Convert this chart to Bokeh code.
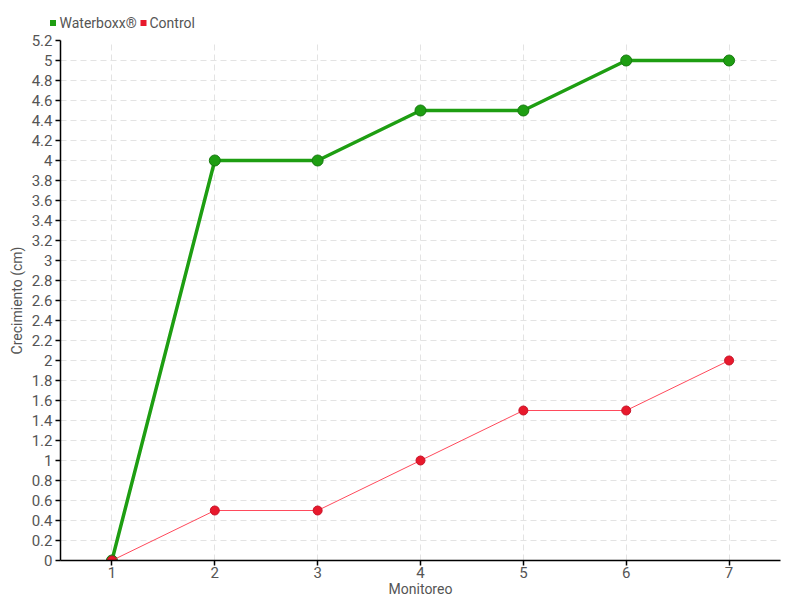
from bokeh.plotting import figure
from bokeh.models import FixedTicker, ColumnDataSource, Range1d
from bokeh.layouts import column
from bokeh.core.properties import value
from bokeh.embed import file_html
from bokeh.resources import INLINE

monitoreo = [1, 2, 3, 4, 5, 6, 7]
waterboxx = [0, 4, 4, 4.5, 4.5, 5, 5]
control = [0, 0.5, 0.5, 1, 1.5, 1.5, 2]
y_ticks = [0, 0.2, 0.4, 0.6, 0.8, 1, 1.2, 1.4, 1.6, 1.8, 2, 2.2, 2.4, 2.6, 2.8, 3,
           3.2, 3.4, 3.6, 3.8, 4, 4.2, 4.4, 4.6, 4.8, 5, 5.2]
y_labels = ["0", "0.2", "0.4", "0.6", "0.8", "1", "1.2", "1.4", "1.6", "1.8", "2", "2.2",
            "2.4", "2.6", "2.8", "3", "3.2", "3.4", "3.6", "3.8", "4", "4.2", "4.4", "4.6",
            "4.8", "5", "5.2"]
x_labels = ["1", "2", "3", "4", "5", "6", "7"]
series_names = ["Waterboxx®", "Control"]

FONT = "Roboto"
TXT = "#555555"
GREEN = "#1e9e12"
GREEN_DARK = "#167a10"
RED_LINE = "#ff4a5c"
RED = "#e8192c"

# ---- legend strip (pixel coordinates) ----
leg = figure(width=800, height=30, output_backend="svg", toolbar_location=None,
             x_range=Range1d(0, 800), y_range=Range1d(30, 0),
             min_border=0, x_axis_type=None, y_axis_type=None)
leg.frame_align = False
leg.outline_line_color = None
leg.xgrid.visible = False
leg.ygrid.visible = False
sq_x = [52.5, 143]
txt_x = [59, 149]
leg_src = ColumnDataSource(dict(sx=sq_x, tx=txt_x, y=[22.5, 22.5], y2=[22, 22],
                                label=series_names, color=[GREEN, RED]))
leg.scatter("sx", "y", source=leg_src, marker="square", size=6, fill_color="color", line_color=None)
leg.text("tx", "y2", text="label", source=leg_src, text_font=value(FONT),
         text_font_size="14px", text_color=TXT, text_baseline="middle", text_align="left")

# ---- main chart ----
p = figure(width=800, height=570, output_backend="svg", toolbar_location=None,
           x_range=Range1d(0.5, 7.5), y_range=Range1d(0, 5.2),
           min_border_left=60, min_border_right=20, min_border_top=10, min_border_bottom=40)
p.frame_align = False
p.outline_line_color = None
p.background_fill_color = "white"

p.xaxis.ticker = FixedTicker(ticks=monitoreo)
p.xaxis.major_label_overrides = {m: l for m, l in zip(monitoreo, x_labels)}
p.yaxis.ticker = FixedTicker(ticks=y_ticks)
p.yaxis.major_label_overrides = {t: l for t, l in zip(y_ticks, y_labels)}

for ax in (p.xaxis[0], p.yaxis[0]):
    ax.axis_line_color = "black"
    ax.axis_line_width = 1.5
    ax.major_tick_line_color = "black"
    ax.major_tick_line_width = 1.5
    ax.major_tick_in = 0
    ax.major_tick_out = 5
    ax.minor_tick_line_color = None
    ax.major_label_text_font = FONT
    ax.major_label_text_font_size = "15px"
    ax.major_label_text_color = TXT
    ax.axis_label_text_font = FONT
    ax.axis_label_text_font_size = "14px"
    ax.axis_label_text_color = TXT
    ax.axis_label_text_font_style = "normal"

p.xaxis.axis_label = "Monitoreo"
p.xaxis.major_label_standoff = 1
p.xaxis.axis_label_standoff = 0
p.yaxis.axis_label = "Crecimiento (cm)"
p.yaxis.major_label_standoff = 3
p.yaxis.axis_label_standoff = 4

for g in (p.xgrid[0], p.ygrid[0]):
    g.grid_line_color = "#e3e3e3"
    g.grid_line_dash = "6 4"
    g.grid_line_width = 1
p.xgrid.ticker = FixedTicker(ticks=monitoreo)
p.ygrid.ticker = FixedTicker(ticks=y_ticks)

src = ColumnDataSource(dict(x=monitoreo, w=waterboxx, c=control))

p.line("x", "w", source=src, line_color=GREEN, line_width=3.5)
p.scatter("x", "w", source=src, size=11, fill_color=GREEN, line_color=GREEN_DARK, line_width=1)
p.line("x", "c", source=src, line_color=RED_LINE, line_width=1)
p.scatter("x", "c", source=src, size=9, fill_color=RED, line_color="#c8142a", line_width=1)

layout = column(leg, p, spacing=0)
open("out.html", "w").write(file_html(layout, INLINE))
